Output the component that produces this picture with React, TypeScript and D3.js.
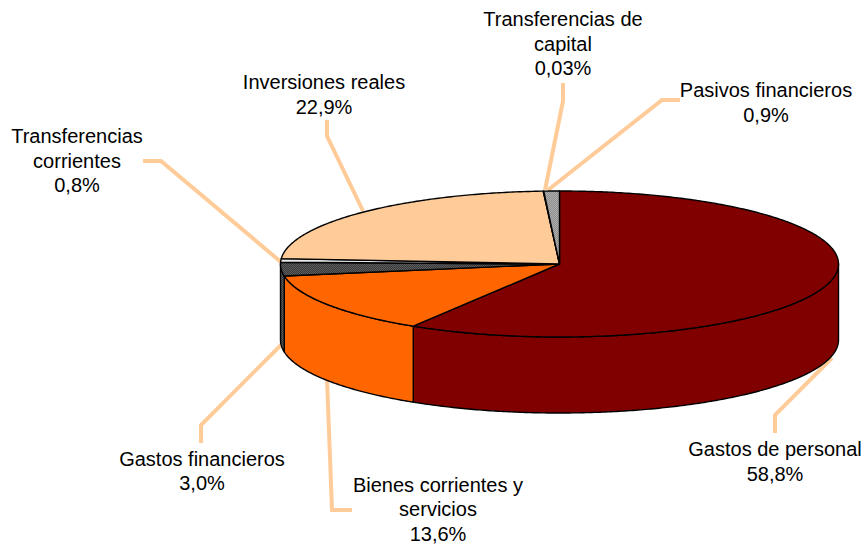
import React from "react";
import * as d3 from "d3";

// values, clockwise from 12 o'clock
const categories = [
  "Gastos de personal",
  "Bienes corrientes y servicios",
  "Gastos financieros",
  "Transferencias corrientes",
  "Inversiones reales",
  "Transferencias de capital",
  "Pasivos financieros",
];
const shares = [58.8, 13.6, 3.0, 0.8, 22.9, 0.03, 0.9];
const shareLabels = ["58,8%", "13,6%", "3,0%", "0,8%", "22,9%", "0,03%", "0,9%"];
const fills = ["#800000", "#ff6600", "url(#dither-dark)", "#e8e8e8", "#ffcc99", "#ffffff", "url(#dither-light)"];
const labelWraps = [
  ["Gastos de personal"],
  ["Bienes corrientes y", "servicios"],
  ["Gastos financieros"],
  ["Transferencias", "corrientes"],
  ["Inversiones reales"],
  ["Transferencias de", "capital"],
  ["Pasivos financieros"],
];

// layout
const labelCenters = [775, 438, 202, 77, 324, 563, 766];
const labelTops = [456, 491.5, 465.5, 143, 89, 26, 97];
const lineStep = 24.6;
const leaders = [
  [[832, 358], [775, 415], [775, 433]],
  [[327, 379], [332, 510], [352, 510]],
  [[283, 343], [201, 425], [201, 443]],
  [[281, 262], [161, 161], [143, 161]],
  [[363, 211], [327, 136], [327, 120]],
  [[545, 190], [563, 101], [563, 83]],
  [[548, 190], [662, 100], [680, 100]],
];

const cx = 559.5;
const cy = 264;
const rx = 279;
const ry = 73;
const depth = 76;

const project = (t: number, dy = 0): [number, number] => [
  cx + rx * Math.sin(t),
  cy - ry * Math.cos(t) + dy,
];

const toPath = d3.line();

function arcPoints(a0: number, a1: number, dy = 0) {
  const n = Math.max(2, Math.ceil((a1 - a0) / 0.01));
  return d3.range(n + 1).map((i) => project(a0 + ((a1 - a0) * i) / n, dy));
}

export default function App() {
  const arcs = d3.pie<number>().sort(null)(shares);

  return (
    <svg
      width={862}
      height={544}
      viewBox="0 0 862 544"
      style={{ position: "absolute", left: 0, top: 0, display: "block", background: "#fff" }}
      fontFamily="'Liberation Sans', Arial, sans-serif"
    >
      <defs>
        <pattern id="dither-dark" width={2} height={2} patternUnits="userSpaceOnUse">
          <rect width={2} height={2} fill="#3a3a3a" />
          <rect width={1} height={1} fill="#5c5c5c" />
          <rect x={1} y={1} width={1} height={1} fill="#5c5c5c" />
        </pattern>
        <pattern id="dither-light" width={2} height={2} patternUnits="userSpaceOnUse">
          <rect width={2} height={2} fill="#8c8c8c" />
          <rect width={1} height={1} fill="#b0b0b0" />
          <rect x={1} y={1} width={1} height={1} fill="#b0b0b0" />
        </pattern>
      </defs>

      {/* leader lines */}
      {leaders.map((pts, i) => (
        <path
          key={categories[i]}
          d={toPath(pts as [number, number][]) as string}
          fill="none"
          stroke="#ffcc99"
          strokeWidth={4}
        />
      ))}

      {/* side walls, only the part facing the viewer */}
      {arcs.map((a, i) => {
        const a0 = Math.max(a.startAngle, Math.PI / 2);
        const a1 = Math.min(a.endAngle, (3 * Math.PI) / 2);
        if (a1 <= a0) return null;
        const pts = [...arcPoints(a0, a1), ...arcPoints(a0, a1, depth).reverse()];
        return (
          <path
            key={categories[i]}
            d={(toPath(pts) as string) + "Z"}
            fill={fills[i]}
            stroke="#000"
            strokeWidth={1.4}
            strokeLinejoin="round"
          />
        );
      })}

      {/* top face */}
      {arcs.map((a, i) => (
        <path
          key={categories[i]}
          d={(toPath([[cx, cy], ...arcPoints(a.startAngle, a.endAngle)]) as string) + "Z"}
          fill={fills[i]}
          stroke="#000"
          strokeWidth={1.4}
          strokeLinejoin="round"
        />
      ))}

      {/* labels */}
      {categories.map((c, i) => (
        <text key={c} textAnchor="middle" fontSize={20} fill="#000">
          {[...labelWraps[i], shareLabels[i]].map((line, j) => (
            <tspan key={j} x={labelCenters[i]} y={labelTops[i] + j * lineStep}>
              {line}
            </tspan>
          ))}
        </text>
      ))}
    </svg>
  );
}
